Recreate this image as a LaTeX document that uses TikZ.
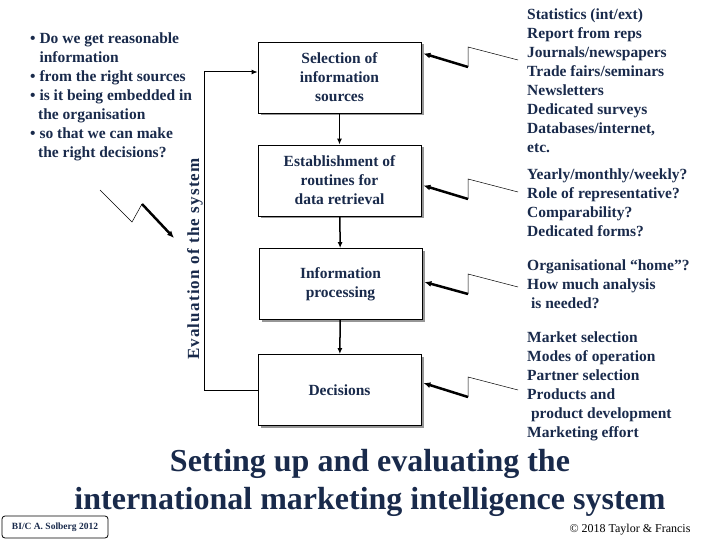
\documentclass[tikz,border=0pt]{standalone}
\usepackage{fontspec}
\setmainfont{Liberation Serif}
\usetikzlibrary{arrows.meta,shadows}
\definecolor{ink}{RGB}{25,42,75}
\definecolor{shade}{RGB}{150,150,150}
\newcommand{\bodyfont}{\fontsize{15.5}{19}\selectfont\bfseries}
\tikzset{
  stage/.style={draw,fill=white,line width=0.8pt,minimum width=163pt,minimum height=71pt,
    align=center,text=ink,font=\bodyfont,
    drop shadow={shadow xshift=2.5pt,shadow yshift=-2.5pt,fill=shade,opacity=1}},
  notes/.style={align=left,text=ink,font=\bodyfont,inner sep=0pt,anchor=north west},
  flow/.style={line width=1.5pt,-{Latex[length=6pt,width=5pt]}},
  zig/.style={line width=0.5pt},
  bolt/.style={line width=2.5pt,-{Latex[length=7pt,width=6pt]}},
}
\begin{document}
\begin{tikzpicture}[x=1pt,y=-1pt]
\useasboundingbox (0,0) rectangle (720,540);
% Stages of the system
\node[stage] (selection) at (339.5,77.5) {Selection of\\information\\sources};
\node[stage] (routines) at (339.5,180.5) {Establishment of\\routines for\\data retrieval};
\node[stage] (processing) at (340.5,284) {Information\\processing};
\node[stage] (decisions) at (339.5,390) {Decisions};
\draw[flow] (selection) -- (routines);
\draw[flow] (routines) -- (processing);
\draw[flow] (processing) -- (decisions);
% Evaluation loop
\coordinate (corner) at (204,72);
\draw[line width=1pt,-{Latex[length=6pt,width=5pt]}] (decisions.west) -| (corner) -- (corner -| selection.west);
\node[text=ink,font=\fontsize{17}{19}\selectfont\bfseries\addfontfeature{LetterSpace=7},rotate=90] (evaluation) at (195,259) {Evaluation of the system};
% Questions
\node[notes] (questions) at (30,33) {%
\textbullet\ Do we get reasonable\\
\hphantom{\textbullet\ }information\\
\textbullet\ from the right sources\\
\textbullet\ is it being embedded in\\
\hphantom{\textbullet}\,the organisation\\
\textbullet\ so that we can make\\
\hphantom{\textbullet}\,the right decisions?};
\coordinate (qstart) at (100,190);
\coordinate (qtip) at (174,238);
\draw[zig] (qstart) -- (132,222) -- (142,204) coordinate (qkink);
\draw[bolt] (qkink) -- (qtip);
% Notes on the right
\node[notes] (sources) at (527,9) {Statistics (int/ext)\\Report from reps\\Journals/newspapers\\Trade fairs/seminars\\Newsletters\\Dedicated surveys\\Databases/internet,\\etc.};
\node[notes] (retrieval) at (527,169) {Yearly/monthly/weekly?\\Role of representative?\\Comparability?\\Dedicated forms?};
\node[notes] (analysis) at (527,260) {Organisational ``home''?\\How much analysis\\\ is needed?};
\node[notes] (choices) at (527,332) {Market selection\\Modes of operation\\Partner selection\\Products and\\\ product development\\Marketing effort};
\foreach \b/\y/\d in {selection/60/24,routines/192/-5,processing/287/2,decisions/390/7} {
  \coordinate (z\b) at (518,\y);
  \draw[zig] (z\b) -- ++(-50,-13) -- ++(0,20) coordinate (k\b);
  \draw[bolt] (k\b) -- ([xshift=2pt,yshift=\d pt]\b.east);
}
% Title and credits
\node[text=ink,font=\fontsize{32}{38}\selectfont\bfseries,align=center] (title) at (370,483)
  {Setting up and evaluating the\\international marketing intelligence system};
\node[draw,rounded corners=3pt,line width=0.8pt,minimum width=106pt,minimum height=22pt,
  text=ink,font=\fontsize{9.5}{10}\selectfont\bfseries] (credit) at (55,527) {BI/C A. Solberg 2012};
\node[font=\fontsize{12}{14}\selectfont] (copyright) at (630,530) {\textcopyright\ 2018 Taylor \& Francis};
\end{tikzpicture}
\end{document}
